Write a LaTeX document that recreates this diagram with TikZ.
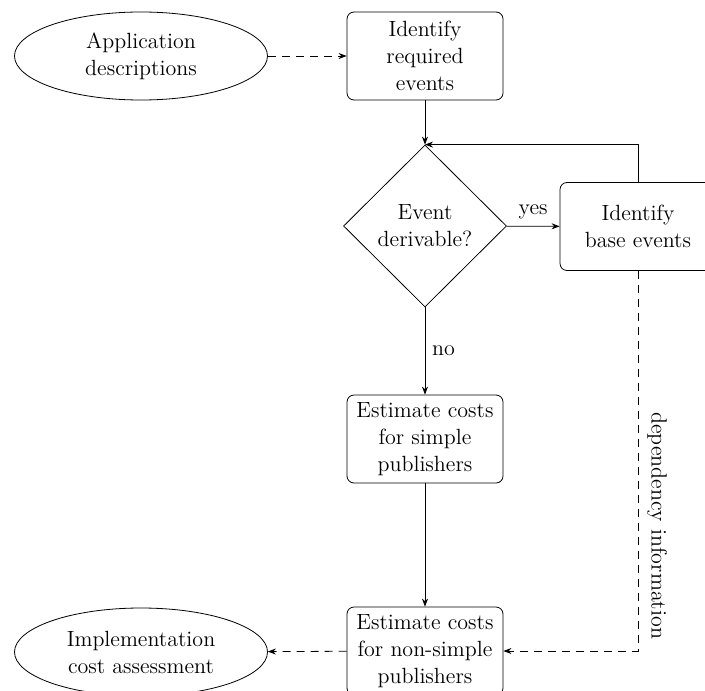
\documentclass[tikz,border=0pt]{standalone}
\usetikzlibrary{shapes.geometric,arrows.meta}
\begin{document}
\begin{tikzpicture}[x=0.5pt,y=-0.5pt,
  font=\fontsize{11}{13.5}\selectfont,
  tip/.style={-{Stealth[length=4pt,width=3pt]}},
  dashline/.style={dash pattern=on 4pt off 3pt},
  stepbox/.style={draw,rounded corners=3.5pt,align=center,
    minimum width=78pt,minimum height=44pt,inner sep=2pt},
  docell/.style={draw,ellipse,align=center,
    minimum width=126.5pt,minimum height=44pt,inner sep=0pt},
  decide/.style={draw,diamond,align=center,aspect=1,
    minimum width=81.5pt,minimum height=81pt,inner sep=0pt}]
\useasboundingbox (0,0) rectangle (705,690);

\node[docell]  (app)   at (141,56)  {Application\\descriptions};
\node[stepbox] (req)   at (425,56)  {Identify\\required\\events};
\node[decide]  (der)   at (425,226) {Event\\derivable?};
\node[stepbox] (base)  at (638,226.5) {Identify\\base events};
\node[stepbox] (simp)  at (425,439) {Estimate costs\\for simple\\publishers};
\node[stepbox] (nons)  at (425,651) {Estimate costs\\for non-simple\\publishers};
\node[docell]  (impl)  at (141,652) {Implementation\\cost assessment};

\draw[tip,dashline] (app) -- (req);
\draw[tip] (req) -- (der);
\draw[tip] (der) -- node[above] {yes} (base);
\draw[tip] (base.north) |- (der.north);
\draw[tip] (der) -- node[right,pos=0.5] {no} (simp);
\draw[tip] (simp) -- (nons);
\draw[tip,dashline] (base.south) |- node[pos=0.335,rotate=-90,anchor=south,yshift=1pt]
  {dependency information} (nons.east);
\draw[tip,dashline] (nons) -- (impl);
\end{tikzpicture}
\end{document}
